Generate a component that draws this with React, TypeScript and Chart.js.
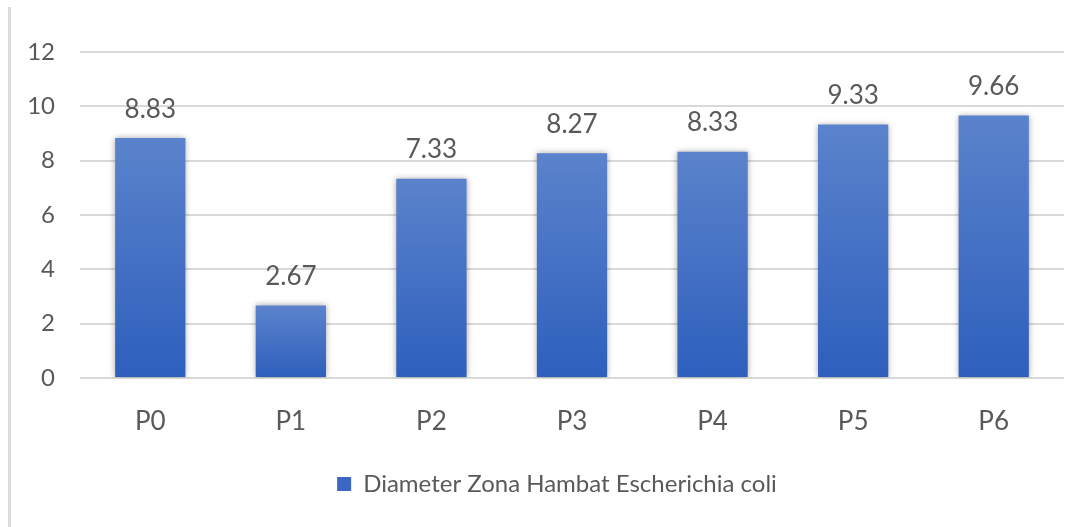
import React, { useEffect, useRef } from "react";
import { Chart, registerables } from "chart.js";

Chart.register(...registerables);

const categories = ["P0", "P1", "P2", "P3", "P4", "P5", "P6"];
const values = [8.83, 2.67, 7.33, 8.27, 8.33, 9.33, 9.66];
const seriesName = "Diameter Zona Hambat Escherichia coli";
const yMin = 0;
const yMax = 12;
const yStep = 2;

const FONT = "Lato, 'Noto Sans', sans-serif";
const TEXT = "#595959";

const shadowPlugin = {
  id: "barShadow",
  beforeDatasetDraw(chart: any) {
    const ctx = chart.ctx;
    ctx.save();
    ctx.shadowColor = "rgba(0,0,0,0.35)";
    ctx.shadowBlur = 6;
    ctx.shadowOffsetX = 0;
    ctx.shadowOffsetY = 0;
  },
  afterDatasetDraw(chart: any) {
    chart.ctx.restore();
  },
};

const legendShift = {
  id: "legendShift",
  afterLayout(chart: any) {
    if (chart.legend) {
      chart.legend.left = 50;
    }
  },
};

const labelPlugin = {
  id: "valueLabels",
  afterDatasetsDraw(chart: any) {
    const ctx = chart.ctx;
    const meta = chart.getDatasetMeta(0);
    ctx.save();
    ctx.font = `26px ${FONT}`;
    ctx.fillStyle = TEXT;
    ctx.textAlign = "center";
    ctx.textBaseline = "bottom";
    meta.data.forEach((bar: any, i: number) => {
      ctx.fillText(values[i].toFixed(2), bar.x, bar.y - 16);
    });
    ctx.restore();
  },
};

export default function App() {
  const ref = useRef<HTMLCanvasElement | null>(null);

  useEffect(() => {
    if (!ref.current) return;
    const chart = new Chart(ref.current, {
      type: "bar",
      data: {
        labels: categories,
        datasets: [
          {
            label: seriesName,
            data: values,
            categoryPercentage: 1,
            barPercentage: 0.5,
            backgroundColor: (c: any) => {
              const ch = c.chart;
              const ys = ch.scales?.y;
              if (!ys || c.type !== "data") return "#4472c4";
              const top = ys.getPixelForValue(c.parsed.y);
              const base = ys.getPixelForValue(0);
              if (!isFinite(top) || !isFinite(base) || top === base) return "#4472c4";
              const g = ch.ctx.createLinearGradient(0, top, 0, base);
              g.addColorStop(0, "#5b83cc");
              g.addColorStop(1, "#2e5fbd");
              return g;
            },
          },
        ],
      },
      options: {
        responsive: false,
        animation: false,
        layout: { padding: { left: 0, right: 20, top: 52, bottom: 21 } },
        plugins: {
          tooltip: { enabled: false },
          legend: {
            position: "bottom",
            labels: {
              color: TEXT,
              font: { family: FONT, size: 24 },
              boxWidth: 14,
              boxHeight: 14,
              padding: 10,
              generateLabels: () => [
                {
                  text: seriesName,
                  fillStyle: "#3a68c3",
                  strokeStyle: "#3a68c3",
                  lineWidth: 0,
                  datasetIndex: 0,
                  hidden: false,
                  fontColor: TEXT,
                },
              ],
            },
          },
        },
        scales: {
          x: {
            grid: { display: false, drawTicks: false },
            border: { display: false },
            ticks: { color: TEXT, font: { family: FONT, size: 26 }, padding: 28 },
            afterFit: (s: any) => {
              s.height = 84;
            },
          },
          y: {
            min: yMin,
            max: yMax,
            ticks: {
              stepSize: yStep,
              color: TEXT,
              font: { family: FONT, size: 24 },
              padding: 25,
            },
            grid: { color: "#d9d9d9", lineWidth: 2, drawTicks: false },
            border: { display: false },
            afterFit: (s: any) => {
              s.width = 80;
            },
          },
        },
      },
      plugins: [shadowPlugin, labelPlugin, legendShift],
    });
    return () => chart.destroy();
  }, []);

  return (
    <div
      style={{
        position: "fixed",
        left: 0,
        top: 0,
        width: 1084,
        height: 527,
        background: "#fff",
        overflow: "hidden",
      }}
    >
      <div
        style={{
          position: "absolute",
          left: 8,
          top: 7,
          width: 3,
          height: 520,
          background: "#dcdcdc",
        }}
      />
      <canvas ref={ref} width={1084} height={527} style={{ position: "absolute", left: 0, top: 0 }} />
    </div>
  );
}
